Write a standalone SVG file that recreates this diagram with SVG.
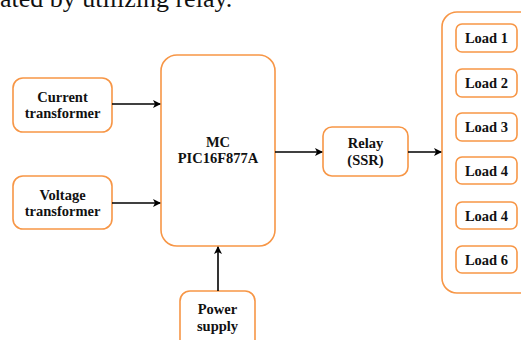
<svg xmlns="http://www.w3.org/2000/svg" width="521" height="340" viewBox="0 0 521 340">
<style>
.box{fill:#fff;stroke:#F79646;stroke-width:1.6}
.t{font-weight:bold;font-size:14.5px;fill:#111;text-anchor:middle}
.c{stroke:#000;stroke-width:1.6;fill:none;marker-end:url(#ah)}
</style>
<defs>
<marker id="ah" viewBox="0 0 8 8" refX="7" refY="4" markerWidth="5" markerHeight="5" orient="auto" markerUnits="strokeWidth">
<path d="M0,0 L8,4 L0,8 L2,4 Z" fill="#000"/>
</marker>
</defs>
<rect width="521" height="340" fill="#fff"/>
<g font-family="Liberation Serif, Times New Roman, serif">
<text x="0" y="7" font-size="26" fill="#111">ated by utilizing relay.</text>
<g id="current">
<rect class="box" x="13" y="78" width="99" height="54" rx="10"/>
<text class="t" x="62.5" y="102">Current</text>
<text class="t" x="62.5" y="118">transformer</text>
</g>
<g id="voltage">
<rect class="box" x="13" y="176" width="99" height="53" rx="10"/>
<text class="t" x="62.5" y="200">Voltage</text>
<text class="t" x="62.5" y="216">transformer</text>
</g>
<g id="mc">
<rect class="box" x="161" y="55" width="114" height="191" rx="16"/>
<text class="t" x="218" y="147">MC</text>
<text class="t" x="218" y="163">PIC16F877A</text>
</g>
<g id="power">
<rect class="box" x="180" y="291" width="75" height="60" rx="10"/>
<text class="t" x="217.5" y="314">Power</text>
<text class="t" x="217.5" y="331">supply</text>
</g>
<g id="relay">
<rect class="box" x="323" y="127" width="85" height="49" rx="9"/>
<text class="t" x="365.5" y="148">Relay</text>
<text class="t" x="365.5" y="165">(SSR)</text>
</g>
<g id="loads">
<rect class="box" x="442" y="12" width="100" height="281" rx="15"/>
</g>
<g id="load1"><rect class="box" x="456" y="24" width="61" height="28" rx="6"/><text class="t" x="486.5" y="43">Load 1</text></g>
<g id="load2"><rect class="box" x="456" y="69" width="61" height="28" rx="6"/><text class="t" x="486.5" y="88">Load 2</text></g>
<g id="load3"><rect class="box" x="456" y="113" width="61" height="28" rx="6"/><text class="t" x="486.5" y="132">Load 3</text></g>
<g id="load4a"><rect class="box" x="456" y="157" width="61" height="27" rx="6"/><text class="t" x="486.5" y="176">Load 4</text></g>
<g id="load4b"><rect class="box" x="456" y="202" width="61" height="27" rx="6"/><text class="t" x="486.5" y="221">Load 4</text></g>
<g id="load6"><rect class="box" x="456" y="246" width="61" height="27" rx="6"/><text class="t" x="486.5" y="265">Load 6</text></g>
</g>
<g id="connectors">
<line class="c" x1="112" y1="104" x2="160" y2="104"/>
<line class="c" x1="112" y1="203" x2="160" y2="203"/>
<line class="c" x1="218" y1="291" x2="218" y2="247"/>
<line class="c" x1="275" y1="152" x2="322" y2="152"/>
<line class="c" x1="408" y1="152" x2="441" y2="152"/>
</g>
</svg>
